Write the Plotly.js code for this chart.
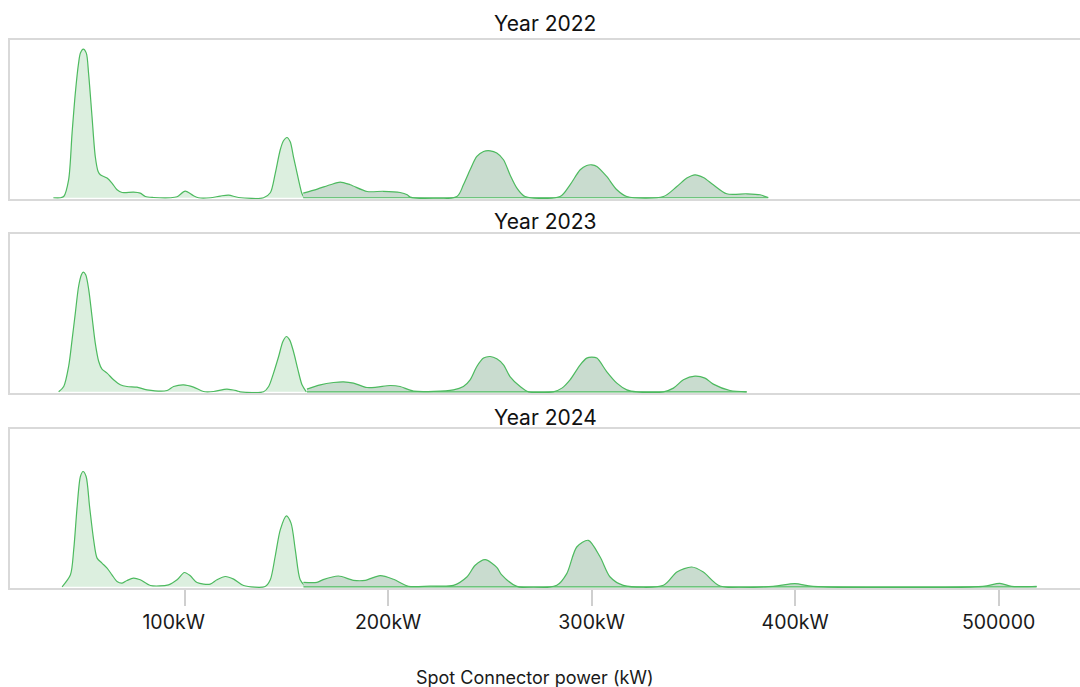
<!DOCTYPE html>
<html>
<head>
<meta charset="utf-8">
<script src="https://cdn.plot.ly/plotly-3.0.1.min.js"></script>
<style>
  html, body { margin: 0; padding: 0; background: #ffffff; overflow: hidden; }
  #chart { width: 1080px; height: 687px; }
</style>
</head>
<body>
<div id="chart"></div>
<script>
// ---- Data (Spot connector power in kW, density values in arbitrary units) ----
const years = ["Year 2022", "Year 2023", "Year 2024"];

// 2022
const x2022Low  = [35.5,38.9,40.6,43.0,44.7,46.3,47.9,48.8,50.2,51.7,52.8,54.5,56.1,57.5,58.6,61.9,64.3,66.8,69.3,74.9,78.2,80.7,84.8,93.0,96.3,100.3,104.4,106.9,112.6,117.5,121.6,126.5,138.8,142.1,144.5,147.0,148.6,150.3,151.9,153.5,156.0,157.7,158.8];
const y2022Low  = [0,0,1.3,18,64.7,104.7,134.7,144.7,148.7,144.7,124.7,81.3,41.3,26.3,23,19.7,14.7,8,5.3,5.7,4.7,1.3,0.3,0,1,6.7,2,0,0,1.7,2.7,0.3,0,5,24,48,57,60.3,56,41,18,4,0];
const x2022High = [158.3,165.2,171.6,176.5,181.4,189.7,197.6,205.9,209.4,210.9,233.8,237.0,240.3,243.6,246.9,250.2,253.4,256.7,259.9,263.3,267.3,284.5,289.4,294.4,297.6,300.1,302.6,307.4,312.4,317.3,335.3,341.9,346.8,350.8,354.9,359.8,366.4,376.2,382.8,386.8];
const y2022High = [4.7,8.7,13,15.7,13,6.3,6.5,5.3,3,0.7,1.3,13,28,41.3,46.3,47,44.7,38,23,9.7,1.3,1.3,13,28,32.3,33,31.3,21.3,8,1.3,1.3,11.3,19.7,23,20.3,13,4,4,3,0.3];

// 2023
const x2023Low  = [38.1,40.6,43.0,44.7,46.3,47.9,49.3,50.2,51.4,52.9,54.5,56.1,57.8,59.4,61.9,65.1,68.4,71.7,76.6,81.5,91.4,94.6,99.5,104.4,109.3,114.2,120.8,125.7,127.4,138.8,141.3,143.7,146.2,148.3,150.0,151.6,153.5,155.7,157.7,159.8];
const y2023Low  = [0,5.3,25.3,52,78.7,105.3,117,119.7,117,102,75.3,48.7,30.3,22.7,18.7,12,7,5.3,4.7,2,1.3,5.3,7,4.7,0.3,0.3,2.7,1,0,0,5.3,18.7,35.3,50.3,55.3,52,40.3,22,7,0];
const x2023High = [160.1,166.7,173.2,178.1,183.0,189.6,194.5,201.0,205.9,212.5,232.1,237.0,240.3,243.6,246.9,250.2,253.4,256.7,259.9,264.9,269.0,281.2,285.4,289.4,294.4,297.6,300.1,302.6,307.4,312.4,317.3,322.2,335.3,340.2,345.1,350.8,355.7,359.8,368.0,376.2];
const y2023High = [2.7,7,9.3,10,8.7,4.3,4.7,6.3,5.3,0.7,2,5.3,12,25.3,33.7,35.3,33,27,15.3,5.3,0,0,3.7,12,27,33.7,34.7,33.7,20.3,8.7,2,0,0,3.7,12,15.7,13.7,7.7,1.3,0];

// 2024
const x2024Low  = [39.8,43.9,45.5,47.2,48.8,50.1,51.6,53.3,55.3,57.0,59.4,61.9,64.3,66.8,69.3,71.7,74.9,78.2,83.2,92.1,96.3,99.9,102.8,106.1,112.6,115.9,120.0,124.1,129.0,139.6,142.1,144.5,147.0,150.0,152.3,154.4,156.8,159.3];
const y2024Low  = [0,12,37,80.3,110.3,115.3,110.3,80.3,47,28.7,23.7,18.7,12,5.3,3.7,6.3,8.7,7,1.3,2,7,14.3,11,4.3,2.7,7,10.3,7.7,1.3,0.3,7,30.3,57,71,63.7,37,7,0.3];
const x2024High = [158.4,165.0,168.1,175.6,183.0,188.8,196.1,202.7,210.0,220.7,232.1,238.7,242.8,247.7,253.4,255.6,263.3,282.9,287.8,292.7,298.4,304.2,309.1,315.6,335.3,341.9,349.2,354.9,363.1,389.2,399.9,408.8,492.3,500.6,506.4,518.7];
const y2024High = [4.5,4.5,7.2,10.8,6.5,6.5,11.2,7.5,0.5,0.8,1.5,9.8,21.5,27.2,19.5,12.5,0.5,1.5,13.2,39.8,46.5,29.8,9.8,1.5,1.5,14.8,19.8,14.8,0.8,0.5,3.2,0.5,0.5,3.5,0.5,0.5];

const tickVals  = [100, 200, 300, 400, 500];
const tickTexts = ["100kW\u00a0\u00a0\u00a0\u00a0", "200kW", "300kW", "400kW", "500000"];
const axisTitle = "Spot Connector power (kW)";

// ---- Styling ----
const lineColor = "#4dba5f";
const fillLow   = "#dcefdf";
const fillHigh  = "#c9dccf";
const borderColor = "#d9d9d9";

const panels = [
  {low: [x2022Low, y2022Low], high: [x2022High, y2022High], xa: "x",  ya: "y"},
  {low: [x2023Low, y2023Low], high: [x2023High, y2023High], xa: "x2", ya: "y2"},
  {low: [x2024Low, y2024Low], high: [x2024High, y2024High], xa: "x3", ya: "y3"}
];

const traces = [];
panels.forEach(p => {
  traces.push({
    type: "scatter", mode: "lines", x: p.low[0], y: p.low[1],
    xaxis: p.xa, yaxis: p.ya, fill: "tozeroy", fillcolor: fillLow,
    line: {color: lineColor, width: 1.2, shape: "spline", smoothing: 0.8},
    hoverinfo: "skip", showlegend: false
  });
  traces.push({
    type: "scatter", mode: "lines", x: p.high[0], y: p.high[1],
    xaxis: p.xa, yaxis: p.ya, fill: "tozeroy", fillcolor: fillHigh,
    line: {color: lineColor, width: 1.2, shape: "spline", smoothing: 0.8},
    hoverinfo: "skip", showlegend: false
  });
  // baseline of the high-power density
  const hx = p.high[0];
  traces.push({
    type: "scatter", mode: "lines", x: [hx[0], hx[hx.length - 1]], y: [0, 0],
    xaxis: p.xa, yaxis: p.ya,
    line: {color: lineColor, width: 1.2},
    hoverinfo: "skip", showlegend: false
  });
});

const xRange = [14.2, 540];
const yRange = [-1.2, 157.8];

const xCommon = {
  range: xRange, showgrid: false, zeroline: false,
  showline: true, mirror: true, linecolor: borderColor, linewidth: 2
};
const yCommon = {
  range: yRange, showgrid: false, zeroline: false, showticklabels: false, ticks: "",
  showline: true, mirror: true, linecolor: borderColor, linewidth: 2, fixedrange: true
};

const domains = [[0.7099, 1], [0.3558, 0.6460], [0, 0.2901]];
const titleShift = [17, 12, 12];

const annotations = years.map((t, i) => ({
  text: t, xref: "paper", yref: "paper", x: 0.5, y: domains[i][1],
  xanchor: "center", yanchor: "middle", yshift: titleShift[i],
  showarrow: false, font: {size: 21, color: "#111111"}
}));
annotations.push({
  text: axisTitle, xref: "paper", yref: "paper", x: 0.4907, y: 0,
  xanchor: "center", yanchor: "middle", yshift: -89,
  showarrow: false, font: {size: 18, color: "#1a1a1a"}
});

const layout = {
  width: 1080, height: 687,
  margin: {l: 10, r: 0, t: 40, b: 99},
  paper_bgcolor: "#ffffff", plot_bgcolor: "#ffffff",
  showlegend: false,
  font: {family: "Inter, 'Open Sans', sans-serif", color: "#1a1a1a"},
  xaxis:  Object.assign({}, xCommon, {anchor: "y",  showticklabels: false, ticks: ""}),
  xaxis2: Object.assign({}, xCommon, {anchor: "y2", showticklabels: false, ticks: ""}),
  xaxis3: Object.assign({}, xCommon, {
    anchor: "y3", tickmode: "array", tickvals: tickVals, ticktext: tickTexts,
    ticks: "outside", ticklen: 16, tickwidth: 1.5, tickcolor: "#cfcfcf",
    tickfont: {size: 19.5, color: "#1a1a1a"}
  }),
  yaxis:  Object.assign({}, yCommon, {anchor: "x",  domain: domains[0]}),
  yaxis2: Object.assign({}, yCommon, {anchor: "x2", domain: domains[1]}),
  yaxis3: Object.assign({}, yCommon, {anchor: "x3", domain: domains[2]}),
  annotations: annotations
};

Plotly.newPlot("chart", traces, layout, {displayModeBar: false, responsive: false});
</script>
</body>
</html>
